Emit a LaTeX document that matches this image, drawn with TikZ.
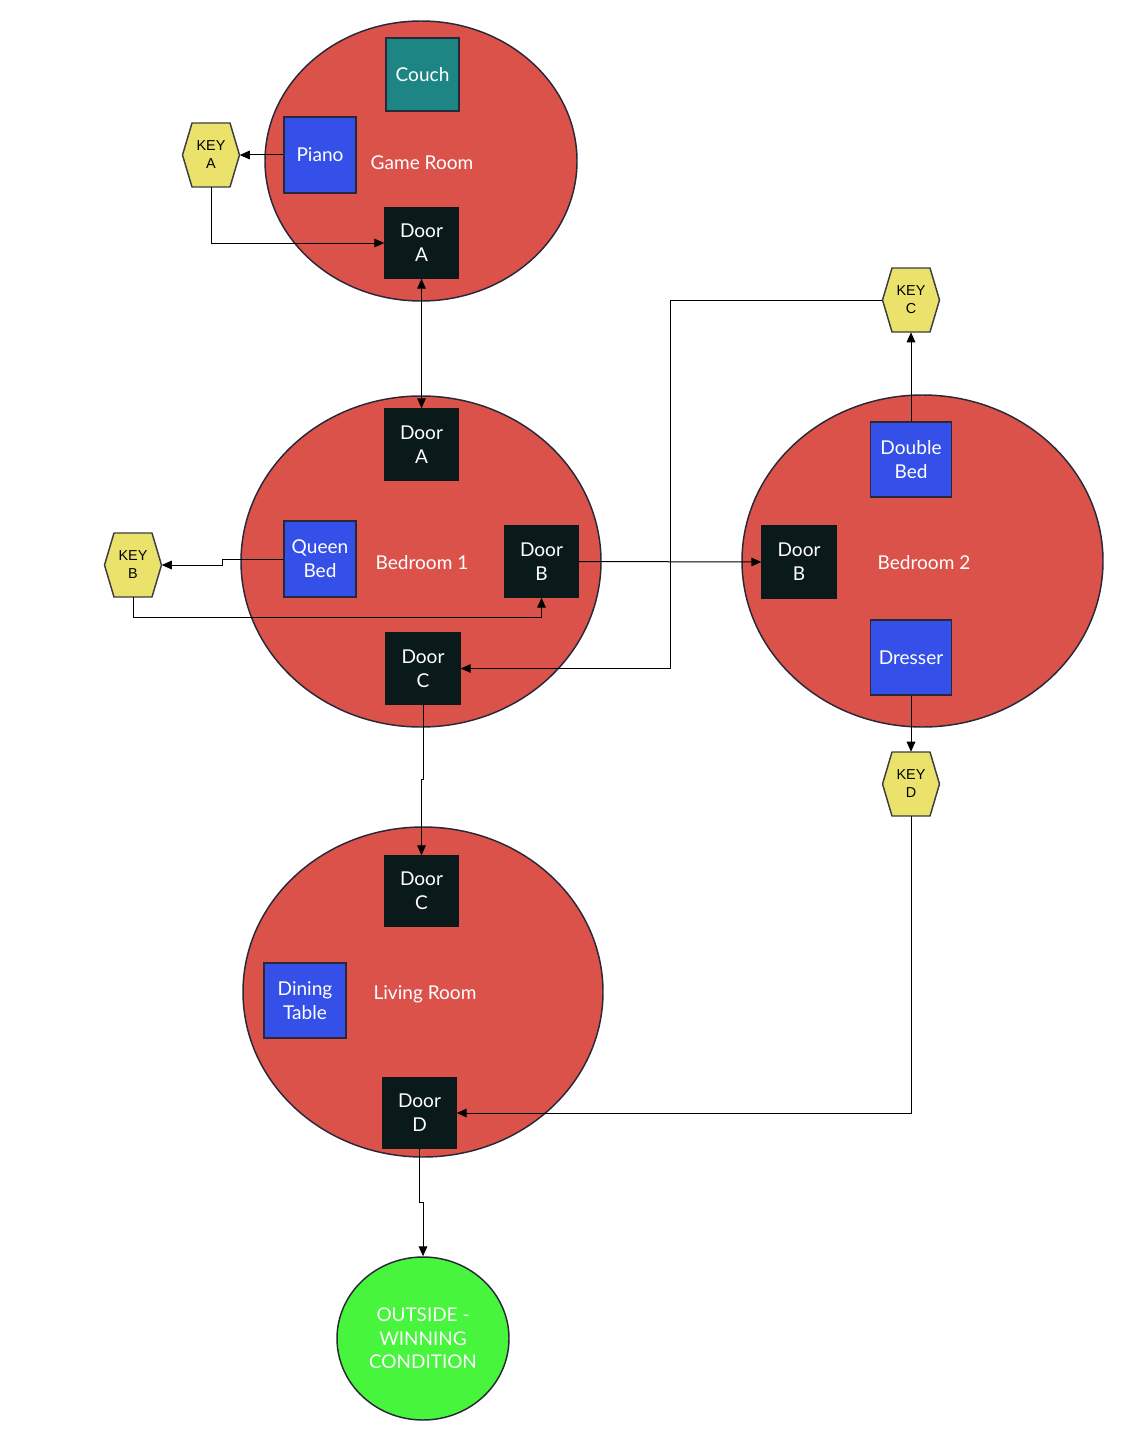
\documentclass[tikz,border=0pt]{standalone}
\usepackage{fontspec}
\setmainfont{Lato}
\newfontfamily\keyfont{Liberation Sans}
\usetikzlibrary{arrows.meta,shapes.geometric,calc}
\definecolor{roomred}{RGB}{218,82,74}
\definecolor{roomline}{RGB}{40,40,56}
\definecolor{couchteal}{RGB}{30,133,133}
\definecolor{furnblue}{RGB}{52,80,232}
\definecolor{doordark}{RGB}{10,26,26}
\definecolor{keyyellow}{RGB}{234,226,106}
\definecolor{hexline}{RGB}{60,60,70}
\definecolor{wingreen}{RGB}{70,245,60}
\newcommand\keyhex[3]{%
  \filldraw[fill=keyyellow, draw=hexline, line width=1.1pt, line join=round]
    (#2) ++(-28.5,0) -- ++(9.5,-32) -- ++(38,0) -- ++(9.5,32) -- ++(-9.5,32) -- ++(-38,0) -- cycle;
  \node[keytxt] (#1) at (#2) {#3};}
\begin{document}
\begin{tikzpicture}[x=0.75pt,y=-0.75pt,
  room/.style={ellipse, draw=roomline, fill=roomred, line width=1.1pt, inner sep=0},
  item/.style={rectangle, draw=roomline, line width=1.1pt, text=white,
    font=\fontsize{14.3}{17.8}\selectfont, align=center, inner sep=0},
  door/.style={item, fill=doordark, draw=doordark},
  furn/.style={item, fill=furnblue},
  lbl/.style={text=white, font=\fontsize{14.3}{17.8}\selectfont, inner sep=0},
  keytxt/.style={rectangle, inner sep=0, minimum width=42.75pt, minimum height=48pt,
    font=\keyfont\fontsize{10.8}{13.5}\selectfont, align=center},
  link/.style={draw=black, line width=0.75pt},
  arr/.style={link, -{Triangle[length=7.5pt,width=6.5pt]}},
  darr/.style={link, {Triangle[length=7.5pt,width=6.5pt]}-{Triangle[length=7.5pt,width=6.5pt]}}
]
\useasboundingbox (0,0) rectangle (1140,1452);

% rooms
\node[room, minimum width=234pt, minimum height=210pt] (game) at (421,161) {};
\node[room, minimum width=270pt, minimum height=248.25pt] (bed1) at (421,561.5) {};
\node[room, minimum width=270.75pt, minimum height=249pt] (bed2) at (922.5,561) {};
\node[room, minimum width=270pt, minimum height=247.5pt] (living) at (423,992) {};
\node[ellipse, draw=roomline, fill=wingreen, line width=1.1pt, inner sep=0,
      minimum width=129pt, minimum height=122.25pt, text=white, align=center,
      font=\fontsize{14.2}{17.6}\selectfont] (outside) at (423,1338.5) {OUTSIDE -\\WINNING\\CONDITION};

% room labels
\node[lbl] (gamelbl) at (422,163) {Game Room};
\node[lbl] (bed1lbl) at (422,563) {Bedroom 1};
\node[lbl] (bed2lbl) at (924,563) {Bedroom 2};
\node[lbl] (livinglbl) at (425,994) {Living Room};

% items
\node[item, fill=couchteal, minimum width=54.75pt, minimum height=54.75pt] (couch) at (422.5,74.5) {Couch};
\node[furn, minimum width=54pt, minimum height=57pt] (piano) at (320,155) {Piano};
\node[door, minimum width=54.75pt, minimum height=52.5pt] (doorA1) at (421.5,243) {Door\\A};
\node[door, minimum width=54.75pt, minimum height=53.25pt] (doorA2) at (421.5,444.5) {Door\\A};
\node[furn, minimum width=54pt, minimum height=57pt] (queen) at (320,559) {Queen\\Bed};
\node[door, minimum width=54.75pt, minimum height=53.25pt] (doorB1) at (541.5,561.5) {Door\\B};
\node[door, minimum width=55.5pt, minimum height=53.25pt] (doorC1) at (423,668.5) {Door\\C};
\node[door, minimum width=55.5pt, minimum height=54pt] (doorB2) at (799,562) {Door\\B};
\node[furn, minimum width=60.75pt, minimum height=56.25pt] (double) at (911,459.5) {Double\\Bed};
\node[furn, minimum width=60.75pt, minimum height=56.25pt] (dresser) at (911,657.5) {Dresser};
\node[door, minimum width=54.75pt, minimum height=52.5pt] (doorC2) at (421.5,891) {Door\\C};
\node[furn, minimum width=61.5pt, minimum height=56.25pt] (dining) at (305,1000.5) {Dining\\Table};
\node[door, minimum width=54.75pt, minimum height=52.5pt] (doorD) at (419.5,1113) {Door\\D};

% keys
\keyhex{keyA}{211,155}{KEY\\A}
\keyhex{keyB}{133,565}{KEY\\B}
\keyhex{keyC}{911,300}{KEY\\C}
\keyhex{keyD}{911,784}{KEY\\D}

% connectors
\coordinate (cturn) at (670,300);
\draw[arr] (piano.west) -- (keyA.east);
\draw[arr] (keyA.south) |- (doorA1.west);
\draw[darr] (doorA1.south) -- (doorA2.north);
\draw[arr] (queen.west) -- ++(-61,0) |- (keyB.east);
\draw[arr] (keyB.south) -- ++(0,20) -| (doorB1.south);
\draw[arr] (doorB1.east) -- (doorB2.west);
\draw[arr] (keyC.west) -- (cturn) |- (doorC1.east);
\draw[arr] (double.north) -- (keyC.south);
\draw[arr] (dresser.south) -- (keyD.north);
\draw[arr] (keyD.south) |- (doorD.east);
\draw[arr] (doorC1.south) -- ++(0,75) -| (doorC2.north);
\draw[arr] (doorD.south) -- ++(0,54) -| (outside.north);
\end{tikzpicture}
\end{document}
